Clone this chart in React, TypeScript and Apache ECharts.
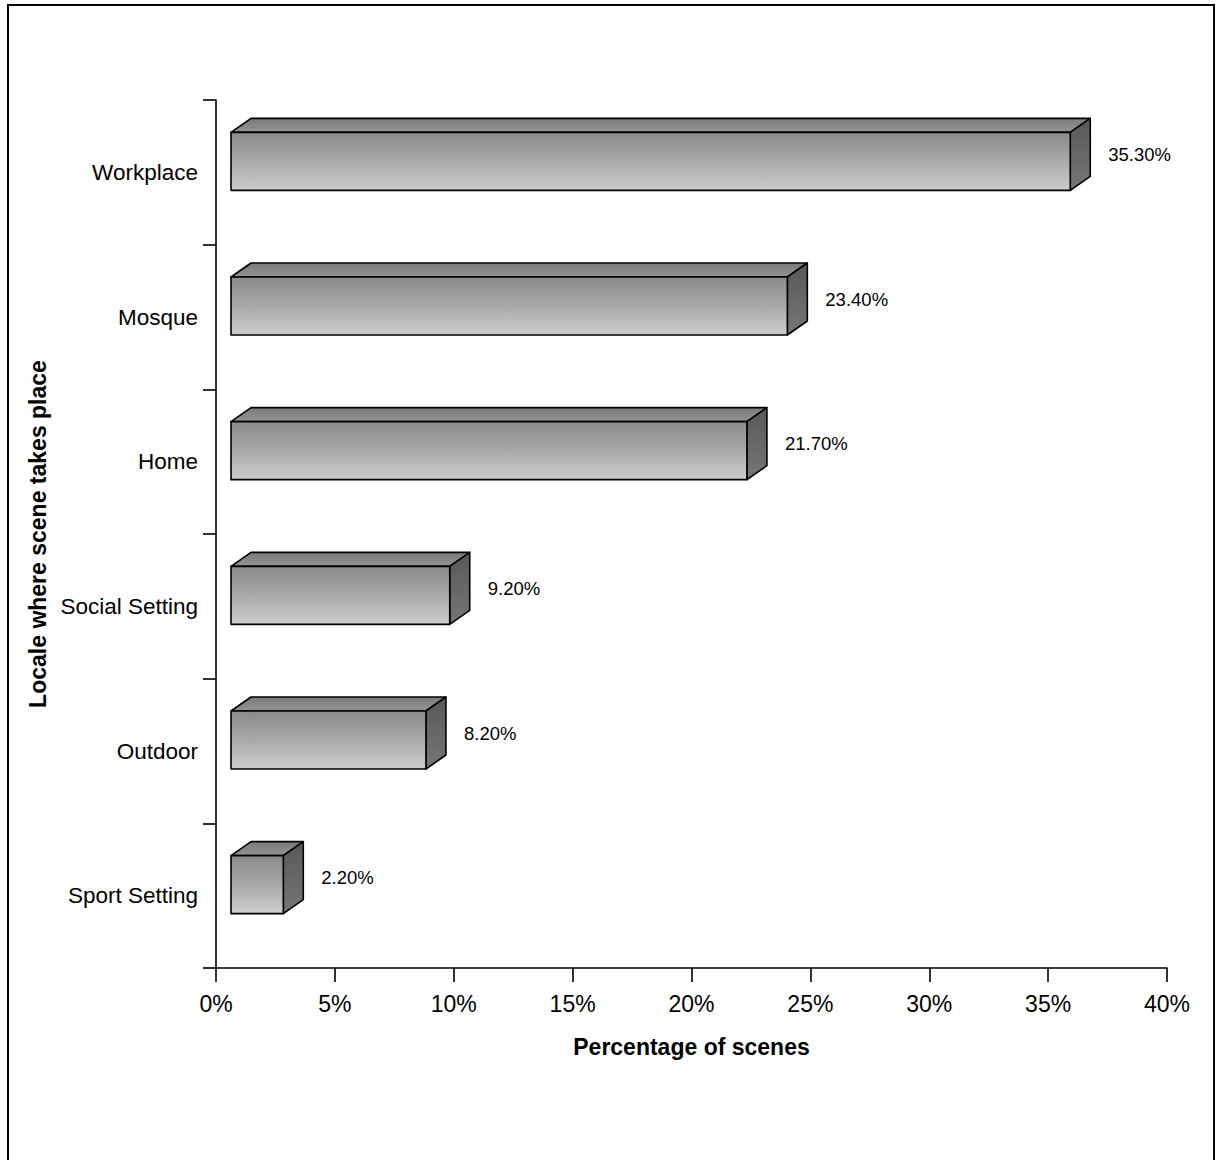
import React, { useEffect, useRef } from "react";
import * as echarts from "echarts";

// Locales in top-to-bottom order and their share of scenes (%)
const categories = ["Workplace", "Mosque", "Home", "Social Setting", "Outdoor", "Sport Setting"];
const shares = [35.3, 23.4, 21.7, 9.2, 8.2, 2.2];
const xTicks = { min: 0, max: 40, interval: 5 };

const FONT = "'Liberation Sans', Arial, Helvetica, sans-serif";

// Fake 3D box geometry (pixels)
const SHIFT = 15; // front face sits right of the axis
const DX = 20; // depth offset to the right
const DY = -14; // depth offset upwards
const FRONT_TOP = -40; // relative to band centre
const FRONT_BOTTOM = 18;

export default function App() {
  const ref = useRef<HTMLDivElement>(null);

  useEffect(() => {
    if (!ref.current) return;
    const chart = echarts.init(ref.current, null, { renderer: "svg" });

    const frontFill = new echarts.graphic.LinearGradient(0, 0, 0, 1, [
      { offset: 0, color: "#8a8a8a" },
      { offset: 0.45, color: "#a6a6a6" },
      { offset: 1, color: "#cdcdcd" },
    ]);
    const topFill = new echarts.graphic.LinearGradient(0, 0, 0, 1, [
      { offset: 0, color: "#7a7a7a" },
      { offset: 1, color: "#939393" },
    ]);
    const sideFill = new echarts.graphic.LinearGradient(0, 0, 0, 1, [
      { offset: 0, color: "#585858" },
      { offset: 1, color: "#767676" },
    ]);
    const edge = { stroke: "#000", lineWidth: 1.6, lineJoin: "round" as const };

    const renderItem = (params: any, api: any) => {
      const v = api.value(0);
      const idx = api.value(1);
      const end = api.coord([v, idx]);
      const start = api.coord([0, idx]);
      const xl = start[0] + SHIFT;
      const xr = end[0] + SHIFT;
      const yt = end[1] + FRONT_TOP;
      const yb = end[1] + FRONT_BOTTOM;
      return {
        type: "group",
        children: [
          {
            type: "polygon",
            shape: { points: [[xl, yt], [xl + DX, yt + DY], [xr + DX, yt + DY], [xr, yt]] },
            style: { fill: topFill, ...edge },
          },
          {
            type: "polygon",
            shape: { points: [[xr, yt], [xr + DX, yt + DY], [xr + DX, yb + DY], [xr, yb]] },
            style: { fill: sideFill, ...edge },
          },
          {
            type: "rect",
            shape: { x: xl, y: yt, width: xr - xl, height: yb - yt },
            style: { fill: frontFill, ...edge },
          },
          {
            type: "text",
            x: end[0] + 53,
            y: end[1] - 18,
            style: {
              text: v.toFixed(2) + "%",
              fill: "#000",
              font: `18.5px ${FONT}`,
              align: "left",
              verticalAlign: "middle",
            },
          },
        ],
      };
    };

    chart.setOption({
      animation: false,
      backgroundColor: "#fff",
      grid: { left: 216, right: 51, top: 100, bottom: 192, containLabel: false },
      xAxis: {
        type: "value",
        min: xTicks.min,
        max: xTicks.max,
        interval: xTicks.interval,
        name: "Percentage of scenes",
        nameLocation: "middle",
        nameGap: 67,
        nameTextStyle: { fontFamily: FONT, fontSize: 23, fontWeight: "bold", color: "#000" },
        axisLine: { show: true, lineStyle: { color: "#000", width: 1.6 } },
        axisTick: { show: true, length: 14, lineStyle: { color: "#000", width: 1.6 } },
        axisLabel: {
          formatter: "{value}%",
          margin: 24,
          fontFamily: FONT,
          fontSize: 23,
          color: "#000",
        },
        splitLine: { show: false },
      },
      yAxis: {
        type: "category",
        data: categories,
        inverse: true,
        name: "Locale where scene takes place",
        nameLocation: "middle",
        nameGap: 156,
        nameRotate: 90,
        nameTextStyle: { fontFamily: FONT, fontSize: 23, fontWeight: "bold", color: "#000" },
        axisLine: { show: true, lineStyle: { color: "#000", width: 1.6 } },
        axisTick: { show: true, length: 13, interval: 0, lineStyle: { color: "#000", width: 1.6 } },
        axisLabel: { margin: 18, fontFamily: FONT, fontSize: 22.5, color: "#000" },
        splitLine: { show: false },
      },
      graphic: [
        {
          type: "rect",
          shape: { x: 8, y: 5, width: 1206, height: 1200 },
          style: { fill: "none", stroke: "#000", lineWidth: 2 },
          silent: true,
          z: 100,
        },
      ],
      series: [
        {
          type: "custom",
          renderItem,
          encode: { x: 0, y: 1 },
          data: shares.map((v, i) => [v, i]),
          clip: false,
        },
      ],
    });

    return () => chart.dispose();
  }, []);

  return (
    <div
      ref={ref}
      style={{ position: "absolute", left: 0, top: 0, width: 1218, height: 1160 }}
    />
  );
}
